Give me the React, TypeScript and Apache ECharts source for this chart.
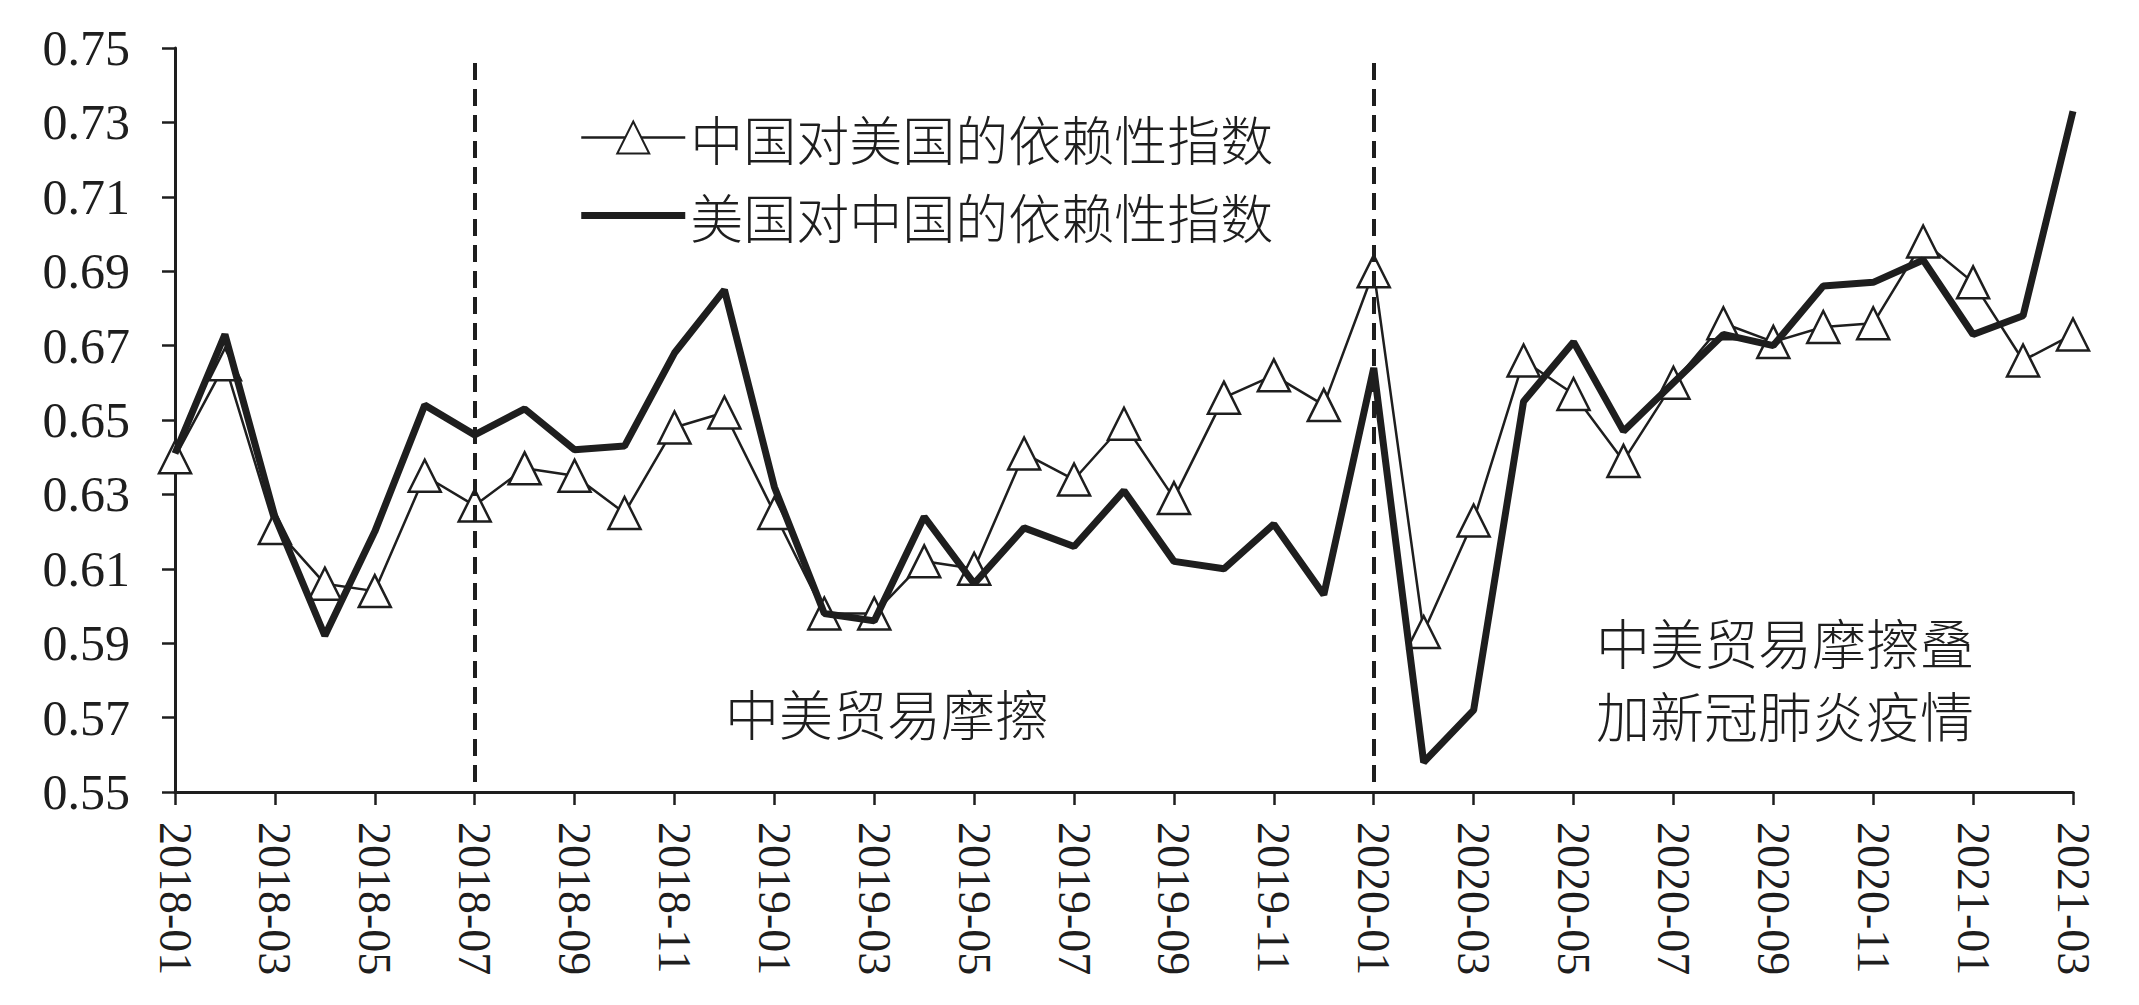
import React, { useEffect, useRef } from "react";
import * as echarts from "echarts";

const MONTHS = [
  "2018-01","2018-02","2018-03","2018-04","2018-05","2018-06","2018-07","2018-08","2018-09","2018-10","2018-11","2018-12",
  "2019-01","2019-02","2019-03","2019-04","2019-05","2019-06","2019-07","2019-08","2019-09","2019-10","2019-11","2019-12",
  "2020-01","2020-02","2020-03","2020-04","2020-05","2020-06","2020-07","2020-08","2020-09","2020-10","2020-11","2020-12",
  "2021-01","2021-02","2021-03",
];

// 中国对美国的依赖性指数
const CHINA_ON_US = [
  0.640, 0.665, 0.621, 0.606, 0.604, 0.635, 0.627, 0.637, 0.635, 0.625, 0.648, 0.652,
  0.625, 0.598, 0.598, 0.612, 0.610, 0.641, 0.634, 0.649, 0.629, 0.656, 0.662, 0.654,
  0.690, 0.593, 0.623, 0.666, 0.657, 0.639, 0.660, 0.676, 0.671, 0.675, 0.676, 0.698,
  0.687, 0.666, 0.673,
];

// 美国对中国的依赖性指数
const US_ON_CHINA = [
  0.641, 0.673, 0.624, 0.592, 0.620, 0.654, 0.646, 0.653, 0.642, 0.643, 0.668, 0.685,
  0.632, 0.598, 0.596, 0.624, 0.606, 0.621, 0.616, 0.631, 0.612, 0.610, 0.622, 0.603,
  0.664, 0.558, 0.572, 0.655, 0.671, 0.647, 0.660, 0.673, 0.670, 0.686, 0.687, 0.693,
  0.673, 0.678, 0.733,
];

const Y_TICKS = [0.55, 0.57, 0.59, 0.61, 0.63, 0.65, 0.67, 0.69, 0.71, 0.73, 0.75];
const Y_MIN = 0.55;
const Y_MAX = 0.75;
const DASH_TOP = 0.746;

const BREAK_MONTHS = ["2018-07", "2020-01"];
const SERIES_NAMES = ["中国对美国的依赖性指数", "美国对中国的依赖性指数"];
const PERIOD_1 = "中美贸易摩擦";
const PERIOD_2 = "中美贸易摩擦叠\n加新冠肺炎疫情";

const INK = "#1e1e1e";
const SERIF = "'Liberation Serif', 'Times New Roman', serif";
const CJK = "'Noto Sans CJK SC', 'Noto Sans', sans-serif";

export default function App() {
  const ref = useRef<HTMLDivElement>(null);

  useEffect(() => {
    document.body.style.margin = "0";
    const chart = echarts.init(ref.current!, null, { renderer: "svg" });
    chart.setOption({
      animation: false,
      backgroundColor: "#ffffff",
      grid: { left: 175, right: 66, top: 48, bottom: 213, containLabel: false },
      legend: {
        orient: "vertical",
        left: 580,
        top: 111,
        padding: 0,
        itemWidth: 104,
        itemHeight: 40,
        itemGap: 25,
        data: [
          { name: SERIES_NAMES[0], lineStyle: { color: INK, width: 2.5 } },
          {
            name: SERIES_NAMES[1],
            icon: "path://M0 0H104V7H0Z",
            itemStyle: { color: INK, borderWidth: 0 },
          },
        ],
        textStyle: {
          fontFamily: CJK,
          fontWeight: 300,
          fontSize: 53,
          color: INK,
          lineHeight: 53,
          padding: [0, 0, 0, 0],
        },
      },
      xAxis: {
        type: "category",
        data: MONTHS,
        boundaryGap: false,
        axisLine: { show: true, lineStyle: { color: INK, width: 3 } },
        axisTick: { show: true, interval: 1, length: 13, lineStyle: { color: INK, width: 2.5 } },
        axisLabel: {
          interval: 1,
          rotate: -90,
          margin: 30,
          fontFamily: SERIF,
          fontSize: 46,
          color: INK,
        },
        splitLine: { show: false },
      },
      yAxis: {
        type: "value",
        min: Y_MIN,
        max: Y_MAX,
        axisLine: { show: true, lineStyle: { color: INK, width: 3 } },
        axisTick: { show: true, length: 13, customValues: Y_TICKS, lineStyle: { color: INK, width: 2.5 } },
        axisLabel: {
          customValues: Y_TICKS,
          margin: 45,
          fontFamily: SERIF,
          fontSize: 50,
          color: INK,
          formatter: (v: number) => v.toFixed(2),
        },
        splitLine: { show: false },
      },
      series: [
        {
          name: SERIES_NAMES[0],
          type: "line",
          data: CHINA_ON_US,
          symbol: "triangle",
          symbolSize: 32,
          showAllSymbol: true,
          lineStyle: { color: INK, width: 2.5 },
          itemStyle: { color: "#ffffff", borderColor: INK, borderWidth: 2.5 },
          z: 2,
          markLine: {
            silent: true,
            symbol: "none",
            label: { show: false },
            lineStyle: { color: INK, width: 4, type: [17, 9] },
            data: BREAK_MONTHS.map((m) => [
              { xAxis: m, yAxis: DASH_TOP },
              { xAxis: m, yAxis: Y_MIN },
            ]),
          },
        },
        {
          name: SERIES_NAMES[1],
          type: "line",
          data: US_ON_CHINA,
          symbol: "none",
          lineStyle: { color: INK, width: 7 },
          itemStyle: { color: INK },
          z: 3,
        },
      ],
      graphic: [
        {
          type: "text",
          left: 725,
          top: 685,
          style: { text: PERIOD_1, font: `300 54px ${CJK}`, fill: INK },
        },
        {
          type: "text",
          left: 1596,
          top: 605,
          style: { text: PERIOD_2, font: `300 54px ${CJK}`, fill: INK, lineHeight: 73 },
        },
      ],
    });
    return () => chart.dispose();
  }, []);

  return <div ref={ref} style={{ width: 2139, height: 1005 }} />;
}
